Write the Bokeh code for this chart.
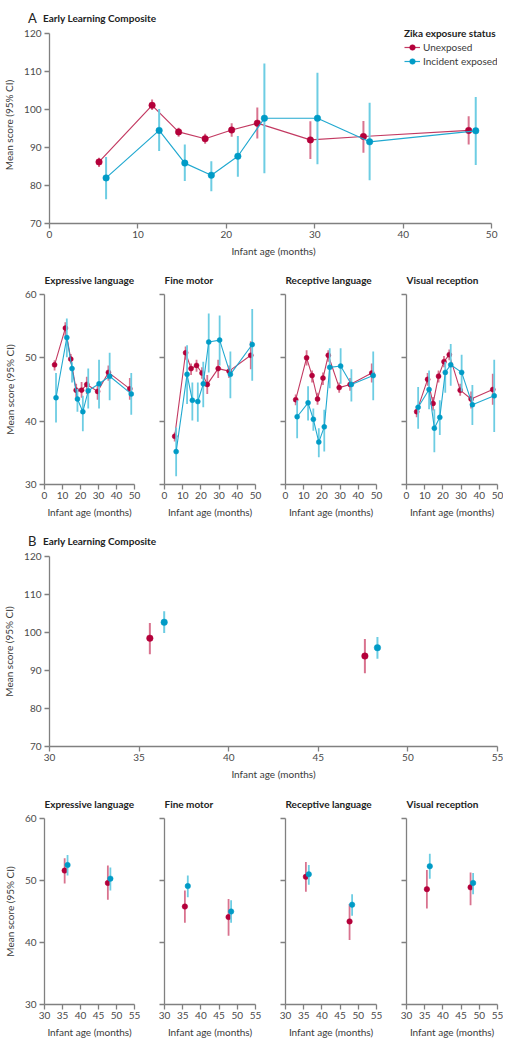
from bokeh.plotting import figure
from bokeh.models import Range1d, FixedTicker, Legend, LegendItem, Div
from bokeh.layouts import column, row
from bokeh.embed import file_html
from bokeh.resources import INLINE

# ---------------- data ----------------
age_unexp = [5.6, 11.6, 14.6, 17.6, 20.6, 23.5, 29.5, 35.5, 47.4]
age_inc = [6.4, 12.4, 15.3, 18.3, 21.3, 24.3, 30.3, 36.2, 48.2]

elc_unexp = [86.2, 101.1, 94.1, 92.3, 94.6, 96.4, 92.0, 92.9, 94.5]
elc_unexp_lo = [84.9, 99.9, 92.8, 91.0, 92.8, 92.4, 87.0, 88.6, 90.8]
elc_unexp_hi = [87.3, 102.6, 95.2, 93.6, 96.4, 100.5, 96.9, 97.0, 98.2]
elc_inc = [82.0, 94.5, 85.9, 82.7, 87.7, 97.7, 97.7, 91.5, 94.4]
elc_inc_lo = [76.4, 89.1, 81.2, 78.5, 82.3, 83.2, 85.6, 81.4, 85.4]
elc_inc_hi = [87.5, 100.1, 90.8, 86.4, 93.0, 112.1, 109.7, 101.8, 103.3]

expr_unexp = [48.9, 54.7, 49.8, 44.9, 44.9, 45.8, 44.7, 47.7, 45.1]
expr_unexp_lo = [48.0, 53.5, 49.1, 43.8, 43.7, 44.3, 43.4, 46.4, 43.4]
expr_unexp_hi = [49.6, 55.6, 50.6, 45.9, 46.2, 47.0, 45.6, 48.8, 46.8]
expr_inc = [43.7, 53.2, 48.3, 43.5, 41.5, 44.8, 45.9, 47.1, 44.3]
expr_inc_lo = [39.8, 50.1, 46.1, 41.5, 38.4, 42.0, 42.0, 43.3, 41.0]
expr_inc_hi = [47.6, 56.2, 49.3, 45.1, 44.0, 48.3, 49.7, 50.8, 47.6]

fm_unexp = [37.6, 50.8, 48.3, 48.8, 47.6, 45.8, 48.3, 47.9, 50.4]
fm_unexp_lo = [36.8, 49.7, 47.3, 47.8, 46.7, 44.3, 46.8, 46.8, 48.2]
fm_unexp_hi = [38.2, 51.8, 49.1, 49.7, 48.5, 47.3, 49.7, 48.8, 52.6]
fm_inc = [35.2, 47.4, 43.3, 43.1, 45.9, 52.5, 52.8, 47.4, 52.1]
fm_inc_lo = [31.3, 42.7, 40.1, 39.9, 42.2, 47.7, 48.8, 43.6, 46.4]
fm_inc_hi = [39.0, 52.0, 46.1, 46.1, 49.4, 57.0, 56.7, 51.0, 57.7]

rl_unexp = [43.4, 50.0, 47.2, 43.5, 46.8, 50.4, 45.3, 45.8, 47.6]
rl_unexp_lo = [42.5, 48.8, 46.1, 42.6, 45.7, 49.4, 44.5, 44.8, 46.1]
rl_unexp_hi = [44.2, 51.2, 48.0, 44.5, 47.7, 51.2, 46.1, 46.8, 49.1]
rl_inc = [40.7, 42.9, 40.3, 36.7, 39.1, 48.5, 48.7, 45.8, 47.2]
rl_inc_lo = [37.3, 40.1, 38.5, 34.3, 35.2, 45.2, 45.9, 43.1, 43.3]
rl_inc_hi = [43.3, 45.5, 42.0, 38.9, 41.8, 51.5, 51.5, 48.2, 51.0]

vr_unexp = [41.5, 46.6, 42.8, 47.1, 49.4, 50.5, 44.9, 43.5, 45.0]
vr_unexp_lo = [40.6, 45.6, 41.7, 46.1, 48.5, 49.6, 44.0, 42.0, 42.6]
vr_unexp_hi = [42.4, 47.6, 43.8, 48.0, 50.3, 51.3, 45.9, 44.7, 47.5]
vr_inc = [42.2, 45.0, 38.9, 40.6, 47.7, 48.9, 47.7, 42.6, 44.0]
vr_inc_lo = [38.8, 41.9, 35.1, 37.8, 44.5, 45.6, 44.7, 39.4, 38.3]
vr_inc_hi = [45.4, 48.0, 41.9, 43.3, 49.4, 52.2, 50.5, 45.7, 49.7]

b_age_unexp = [35.6, 47.6]
b_age_inc = [36.4, 48.3]
b_elc_unexp = [98.5, 93.8]
b_elc_unexp_lo = [94.3, 89.3]
b_elc_unexp_hi = [102.5, 98.3]
b_elc_inc = [102.7, 96.0]
b_elc_inc_lo = [99.9, 93.1]
b_elc_inc_hi = [105.6, 98.8]
b_expr_unexp = [51.6, 49.6]
b_expr_unexp_lo = [49.5, 46.9]
b_expr_unexp_hi = [53.6, 52.4]
b_expr_inc = [52.5, 50.3]
b_expr_inc_lo = [50.8, 48.4]
b_expr_inc_hi = [54.1, 52.1]
b_fm_unexp = [45.8, 44.1]
b_fm_unexp_lo = [43.2, 41.1]
b_fm_unexp_hi = [48.4, 47.0]
b_fm_inc = [49.1, 45.0]
b_fm_inc_lo = [47.3, 43.2]
b_fm_inc_hi = [50.8, 46.8]
b_rl_unexp = [50.6, 43.4]
b_rl_unexp_lo = [48.2, 40.4]
b_rl_unexp_hi = [53.0, 46.2]
b_rl_inc = [51.0, 46.1]
b_rl_inc_lo = [49.3, 44.3]
b_rl_inc_hi = [52.5, 47.8]
b_vr_unexp = [48.6, 48.9]
b_vr_unexp_lo = [45.5, 46.0]
b_vr_unexp_hi = [51.7, 51.3]
b_vr_inc = [52.3, 49.6]
b_vr_inc_lo = [50.3, 47.8]
b_vr_inc_hi = [54.3, 51.2]

subtitles = ["Expressive language", "Fine motor", "Receptive language", "Visual reception"]
composite_title = "Early Learning Composite"
panel_letters = ["A", "B"]
x_label = "Infant age (months)"
y_label = "Mean score (95% CI)"
legend_title = "Zika exposure status"
series_names = ["Unexposed", "Incident exposed"]

ticks_comp_y = [70, 80, 90, 100, 110, 120]
ticks_small_y = [30, 40, 50, 60]
ticks_a_x = [0, 10, 20, 30, 40, 50]
ticks_b_comp_x = [30, 35, 40, 45, 50, 55]
ticks_b_small_x = [30, 35, 40, 45, 50, 55]

# ---------------- style ----------------
FONT = "Lato"
RED_PT, RED_LN, RED_CI = "#B4003A", "#C33A62", "#D9738F"
BLU_PT, BLU_LN, BLU_CI = "#009BC6", "#22A9D0", "#6DCDE3"
AX_COL = "#808080"
FRAME_H = 190
FRAME_W = 454


def make_fig(width, height, xr, yr, bl, br, bt, bb, xt, yt, title=None, standoff=17,
             ylab=True, xlab=True, ytick_labels=True):
    p = figure(width=width, height=height,
               x_range=Range1d(*xr), y_range=Range1d(*yr),
               output_backend="svg", toolbar_location=None,
               min_border_left=bl, min_border_right=br,
               min_border_top=bt, min_border_bottom=bb)
    p.outline_line_color = None
    p.grid.visible = False
    for ax in (p.xaxis[0], p.yaxis[0]):
        ax.axis_line_color = AX_COL
        ax.axis_line_width = 1.3
        ax.major_tick_line_color = AX_COL
        ax.major_tick_line_width = 1.3
        ax.major_tick_out = 5
        ax.major_tick_in = 0
        ax.minor_tick_line_color = None
        ax.major_label_text_font = FONT
        ax.major_label_text_font_size = "10px"
        ax.major_label_text_color = "#4a4a4a"
        ax.axis_label_text_font = FONT
        ax.axis_label_text_font_size = "10px"
        ax.axis_label_text_font_style = "normal"
        ax.axis_label_text_color = "#3a3a3a"
    p.xaxis.ticker = FixedTicker(ticks=xt)
    p.yaxis.ticker = FixedTicker(ticks=yt)
    p.xaxis.bounds = (xt[0], xt[-1])
    p.yaxis.bounds = (yt[0], yt[-1])
    p.xaxis.major_label_standoff = 2
    p.xaxis.axis_label_standoff = 4
    p.yaxis.major_label_standoff = 3
    p.yaxis.axis_label_standoff = 6
    if xlab:
        p.xaxis.axis_label = x_label
    if ylab:
        p.yaxis.axis_label = y_label
    if not ytick_labels:
        p.yaxis.major_label_overrides = {t: "" for t in yt}
    if title:
        p.title.text = title
        p.title.text_font = FONT
        p.title.text_font_size = "10px"
        p.title.text_font_style = "bold"
        p.title.text_color = "#222222"
        p.title.align = "left"
        p.title.offset = 0
        p.title.standoff = standoff
    return p


def header(h, letter, title, center_y):
    html = (
        f'<div style="position:relative;width:503px;height:{h}px;'
        f'font-family:Lato,sans-serif;color:#222222;">'
        f'<span style="position:absolute;left:28px;top:{center_y - 8}px;'
        f'font-size:13px;line-height:16px;white-space:nowrap;">{letter}</span>'
        f'<span style="position:absolute;left:43px;top:{center_y - 6}px;'
        f'font-size:10px;line-height:12px;font-weight:bold;white-space:nowrap;">{title}</span>'
        f'</div>'
    )
    return Div(text=html, width=503, height=h, margin=(0, 0, 0, 0))


def draw(p, x, y, lo, hi, pt, ln, ci, size, line=True, ci_w=2.0, ln_w=1.2):
    p.segment(x0=x, y0=lo, x1=x, y1=hi, line_color=ci, line_width=ci_w)
    rl = None
    if line:
        rl = p.line(x, y, line_color=ln, line_width=ln_w)
    rp = p.scatter(x, y, size=size, fill_color=pt, line_color=pt, line_width=0.5)
    return rl, rp


# ---------------- Panel A composite ----------------
hdr_a = header(26, panel_letters[0], composite_title, 18)
# frame extends 7px above the 120 tick and 6px right of 50 (axes drawn only over bounds)
y_top_a = 120 + 7 * 50 / FRAME_H
x_right_a = 50 + 6 * 50 / FRAME_W
pa = make_fig(503, 236, (0, x_right_a), (70, y_top_a), 43, 0, 0, 39, ticks_a_x, ticks_comp_y)
r1l, r1p = draw(pa, age_unexp, elc_unexp, elc_unexp_lo, elc_unexp_hi, RED_PT, RED_LN, RED_CI, 6.5)
b1l, b1p = draw(pa, age_inc, elc_inc, elc_inc_lo, elc_inc_hi, BLU_PT, BLU_LN, BLU_CI, 6.5)
leg = Legend(items=[LegendItem(label=series_names[0], renderers=[r1l, r1p]),
                    LegendItem(label=series_names[1], renderers=[b1l, b1p])],
             location=(355, 155), title=legend_title,
             title_text_font=FONT, title_text_font_size="10px", title_text_font_style="bold",
             title_text_color="#222222", title_standoff=1,
             label_text_font=FONT, label_text_font_size="10px", label_text_color="#3a3a3a",
             label_height=14, glyph_height=14, glyph_width=16, label_standoff=3,
             label_width=86,
             spacing=0, padding=0, margin=0, border_line_color=None,
             background_fill_alpha=0)
pa.add_layout(leg)

# ---------------- small panels ----------------
small_a = [
    (expr_unexp, expr_unexp_lo, expr_unexp_hi, expr_inc, expr_inc_lo, expr_inc_hi),
    (fm_unexp, fm_unexp_lo, fm_unexp_hi, fm_inc, fm_inc_lo, fm_inc_hi),
    (rl_unexp, rl_unexp_lo, rl_unexp_hi, rl_inc, rl_inc_lo, rl_inc_hi),
    (vr_unexp, vr_unexp_lo, vr_unexp_hi, vr_inc, vr_inc_lo, vr_inc_hi),
]
small_b = [
    (b_expr_unexp, b_expr_unexp_lo, b_expr_unexp_hi, b_expr_inc, b_expr_inc_lo, b_expr_inc_hi),
    (b_fm_unexp, b_fm_unexp_lo, b_fm_unexp_hi, b_fm_inc, b_fm_inc_lo, b_fm_inc_hi),
    (b_rl_unexp, b_rl_unexp_lo, b_rl_unexp_hi, b_rl_inc, b_rl_inc_lo, b_rl_inc_hi),
    (b_vr_unexp, b_vr_unexp_lo, b_vr_unexp_hi, b_vr_inc, b_vr_inc_lo, b_vr_inc_hi),
]
widths = [152, 121, 121, 109]
lefts = [43, 12, 12, 12]
rights = [18, 18, 18, 6]

row_a = []
for i, d in enumerate(small_a):
    p = make_fig(widths[i], 262, (0, 50), (30, 60), lefts[i], rights[i], 32, 40,
                 ticks_a_x, ticks_small_y, title=subtitles[i], standoff=17,
                 ylab=(i == 0), ytick_labels=(i == 0))
    draw(p, age_unexp, d[0], d[1], d[2], RED_PT, RED_LN, RED_CI, 5, ci_w=1.8, ln_w=1.1)
    draw(p, age_inc, d[3], d[4], d[5], BLU_PT, BLU_LN, BLU_CI, 5, ci_w=1.8, ln_w=1.1)
    row_a.append(p)

# ---------------- Panel B composite ----------------
hdr_b = header(24, panel_letters[1], composite_title, 17)
pb = make_fig(503, 238, (30, 55), (70, 120), 43, 6, 8, 40, ticks_b_comp_x, ticks_comp_y)
draw(pb, b_age_unexp, b_elc_unexp, b_elc_unexp_lo, b_elc_unexp_hi, RED_PT, RED_LN, RED_CI, 6.5, line=False)
draw(pb, b_age_inc, b_elc_inc, b_elc_inc_lo, b_elc_inc_hi, BLU_PT, BLU_LN, BLU_CI, 6.5, line=False)

row_b = []
for i, d in enumerate(small_b):
    p = make_fig(widths[i], 254, (30, 55), (30, 60), lefts[i], rights[i], 32, 32,
                 ticks_b_small_x, ticks_small_y, title=subtitles[i], standoff=17,
                 ylab=(i == 0), ytick_labels=(i == 0))
    draw(p, b_age_unexp, d[0], d[1], d[2], RED_PT, RED_LN, RED_CI, 5.5, line=False, ci_w=1.8)
    draw(p, b_age_inc, d[3], d[4], d[5], BLU_PT, BLU_LN, BLU_CI, 5.5, line=False, ci_w=1.8)
    row_b.append(p)

layout = column(hdr_a, pa, row(*row_a, spacing=0), hdr_b, pb, row(*row_b, spacing=0), spacing=0)

open("out.html", "w").write(file_html(layout, INLINE))
